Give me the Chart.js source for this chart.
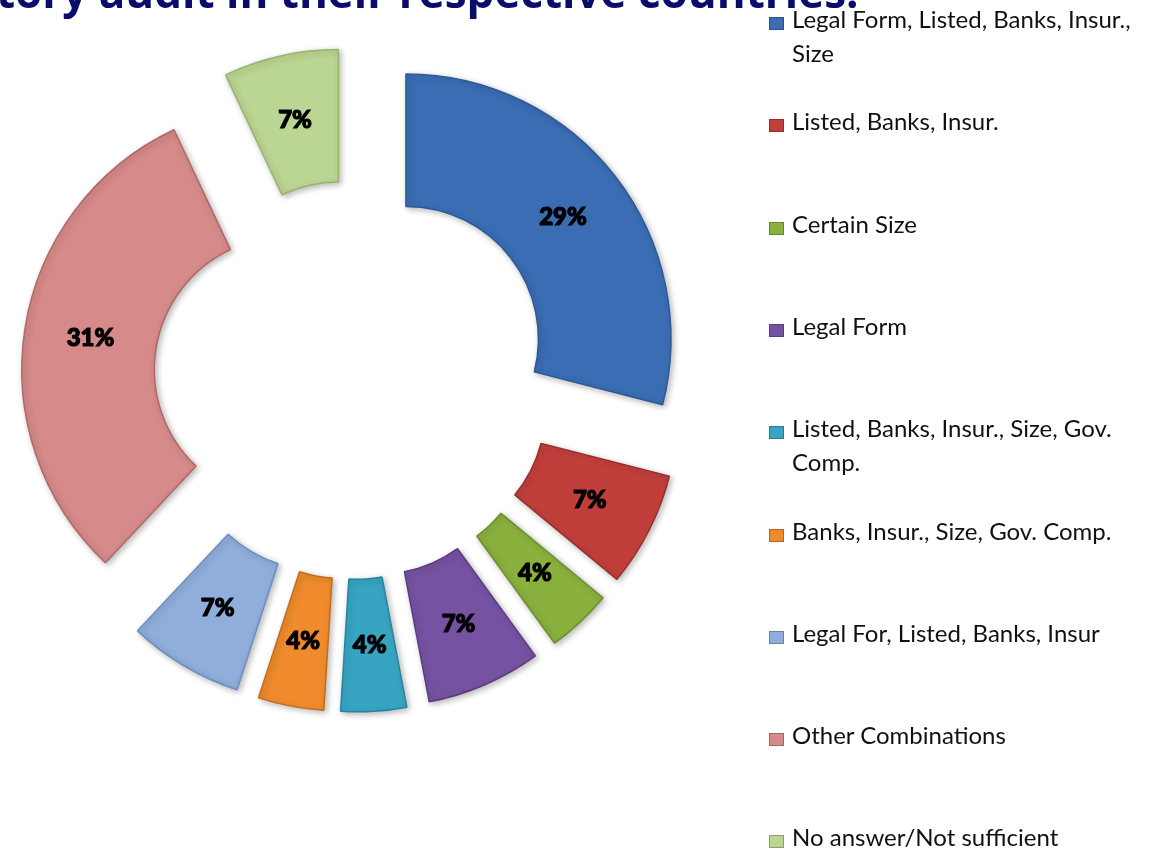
<!DOCTYPE html>
<html>
<head>
<meta charset="utf-8">
<script src="https://cdn.jsdelivr.net/npm/chart.js@4.4.1/dist/chart.umd.min.js"></script>
<style>
	body { margin: 0; background: #fff; overflow: hidden; }
	#wrap { position: relative; width: 1154px; height: 851px; overflow: hidden; }
	#title { position: absolute; left: -4px; top: -31px; font: bold 44px "Open Sans", sans-serif; line-height: 44px; color: #0b0b6b; white-space: nowrap; }
	#legend { position: absolute; left: 769px; top: 0; }
	.item { position: absolute; left: 0; width: 400px; font: 24px Lato, sans-serif; line-height: 34px; color: #111; }
	.item .box { position: absolute; left: 0; top: 15px; width: 13px; height: 11px; border: 1px solid rgba(0,0,0,0.25); }
	.item .txt { position: absolute; left: 23px; width: 372px; }
</style>
</head>
<body>
<div id="wrap">
	<canvas id="ringChart"></canvas>
	<div id="title">tory audit in their respective countries:</div>
	<div id="legend"></div>
</div>
<script>
const categories = [
	'Legal Form, Listed, Banks, Insur., Size',
	'Listed, Banks, Insur.',
	'Certain Size',
	'Legal Form',
	'Listed, Banks, Insur., Size, Gov. Comp.',
	'Banks, Insur., Size, Gov. Comp.',
	'Legal For, Listed, Banks, Insur',
	'Other Combinations',
	'No answer/Not sufficient'
];
const shares = [29, 7, 4, 7, 4, 4, 7, 31, 7];
const fillColors = ['#3a6db4', '#c13f3b', '#8ab13e', '#7652a2', '#37a5c2', '#ef8b2c', '#8faedb', '#d68a89', '#bbd592'];
const edgeColors = ['#2c5a96', '#9a2e2b', '#6c8e2c', '#5b3c82', '#2784a0', '#c46c1a', '#6e8ebe', '#b06766', '#97b36c'];

const explode = 67; // every slice is pulled out this far (px)

document.addEventListener('DOMContentLoaded', function() {
	// Excel-style exploded ring: shift each arc outward along its middle angle
	const arcDraw = Chart.ArcElement.prototype.draw;
	Chart.ArcElement.prototype.draw = function(ctx) {
		const mid = (this.startAngle + this.endAngle) / 2;
		ctx.save();
		ctx.translate(Math.cos(mid) * explode, Math.sin(mid) * explode);
		ctx.shadowColor = 'rgba(0,0,0,0.28)';
		ctx.shadowBlur = 6;
		ctx.shadowOffsetX = 2;
		ctx.shadowOffsetY = 2;
		arcDraw.call(this, ctx);
		ctx.restore();
	};

	const sliceLabels = {
		id: 'sliceLabels',
		afterDatasetsDraw(chart) {
			const ctx = chart.ctx;
			const meta = chart.getDatasetMeta(0);
			ctx.save();
			ctx.font = '900 24px Lato, sans-serif';
			ctx.fillStyle = '#000';
			ctx.strokeStyle = '#000';
			ctx.lineWidth = 1.2;
			ctx.textAlign = 'center';
			ctx.textBaseline = 'middle';
			meta.data.forEach(function(arc, i) {
				const p = arc.getProps(['x', 'y', 'startAngle', 'endAngle', 'innerRadius', 'outerRadius']);
				const mid = (p.startAngle + p.endAngle) / 2;
				const r = (p.innerRadius + p.outerRadius) / 2 + explode;
				const x = p.x + Math.cos(mid) * r;
				const y = p.y + Math.sin(mid) * r;
				ctx.strokeText(shares[i] + '%', x, y);
				ctx.fillText(shares[i] + '%', x, y);
			});
			ctx.restore();
		}
	};

	new Chart(document.getElementById('ringChart'), {
		type: 'doughnut',
		data: {
			labels: categories,
			datasets: [{
				data: shares,
				backgroundColor: fillColors,
				borderColor: edgeColors,
				borderWidth: 1.5
			}]
		},
		options: {
			responsive: true,
			maintainAspectRatio: false,
			animation: false,
			radius: 265,
			cutout: '50%',
			layout: { padding: { left: 0, top: 0, right: 448, bottom: 91 } },
			plugins: {
				legend: { display: false },
				tooltip: { enabled: false }
			}
		},
		plugins: [sliceLabels]
	});

	// legend on the right, one entry per category
	let legend = document.getElementById('legend');
	categories.forEach(function(name, i) {
		let item = document.createElement('div');
		item.className = 'item';
		item.style.top = (2 + i * 102.3) + 'px';
		item.innerHTML = '<span class="box" style="background:' + fillColors[i] + '"></span><span class="txt">' + name + '</span>';
		legend.appendChild(item);
	});
});
</script>
</body>
</html>
